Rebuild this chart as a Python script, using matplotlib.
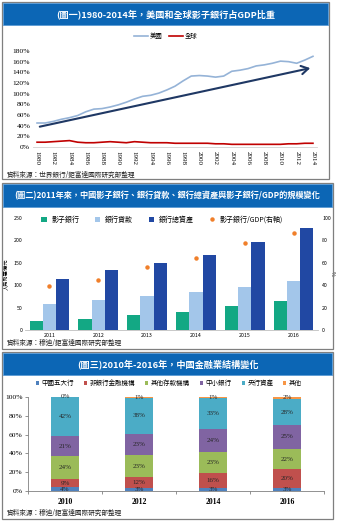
import matplotlib
matplotlib.use("Agg")
import matplotlib.pyplot as plt
from matplotlib.patches import Rectangle
import numpy as np

plt.rcParams['font.family'] = ['Noto Sans CJK TC', 'DejaVu Sans']

W, H = 338, 522

# 圖一 資料
years1 = list(range(1980, 2015))
us = [45, 45, 48, 52, 55, 59, 66, 71, 72, 75, 79, 84, 90, 95, 97, 101, 107, 114, 124, 133,
      134, 133, 131, 133, 142, 144, 147, 152, 154, 157, 161, 160, 157, 163, 170]
world = [9, 9, 10, 11, 12, 9, 8, 8, 9, 10, 9, 8, 10, 9, 8, 8, 8, 7, 7, 7,
         7, 7, 6, 6, 5, 5, 5, 5, 5, 5, 5, 6, 6, 7, 7]
arrow_x = [1980, 2014]
arrow_y = [37, 149]

# 圖二 資料
years2 = ['2011', '2012', '2013', '2014', '2015', '2016']
shadow = [20, 24, 33, 41, 54, 65]
loans = [57, 67, 76, 85, 96, 109]
assets = [113, 133, 149, 167, 196, 227]
shadow_gdp = [39, 45, 56, 64, 78, 87]

# 圖三 資料
years3 = ['2010', '2012', '2014', '2016']
seg_names = ['中國五大行', '非銀行金融機構', '其他存款機構', '中小銀行', '央行資產', '其他']
seg_vals = [
    [4, 3, 3, 3],
    [9, 12, 16, 20],
    [24, 23, 23, 22],
    [21, 23, 24, 25],
    [42, 38, 33, 28],
    [0, 1, 1, 2],
]
seg_colors = ['#4F81BD', '#C0504D', '#9BBB59', '#8064A2', '#4BACC6', '#F79646']


def fr(x0, y0, x1, y1):
    return [x0 / W, 1 - y1 / H, (x1 - x0) / W, (y1 - y0) / H]


def fx(x):
    return x / W


def fy(y):
    return 1 - y / H


fig = plt.figure(figsize=(W / 100, H / 100), dpi=100)
fig.patch.set_facecolor('white')

BANNER = '#0C66B5'


def panel(x0, y0, x1, y1, by1, title, fs):
    fig.patches.append(Rectangle((fx(x0), fy(y1)), fx(x1 - x0), (y1 - y0) / H,
                                 transform=fig.transFigure, fill=False,
                                 edgecolor='#7F7F7F', lw=0.9))
    fig.patches.append(Rectangle((fx(x0 + 1), fy(by1)), fx(x1 - x0 - 2), (by1 - y0 - 1) / H,
                                 transform=fig.transFigure, facecolor=BANNER,
                                 edgecolor='#5B9BD5', lw=0.6))
    fig.text(fx((x0 + x1) / 2), fy((y0 + by1) / 2 + 0.5), title, color='white',
             fontsize=fs, fontweight='bold', ha='center', va='center')


panel(2, 2, 329, 179, 25, '(圖一)1980-2014年，美國和全球影子銀行占GDP比重', 6.6)
panel(2, 183, 333, 349, 207,
      '(圖二)2011年來，中國影子銀行、銀行貸款、銀行總資產與影子銀行/GDP的規模變化', 5.9)
panel(2, 352, 333, 519, 375, '(圖三)2010年-2016年，中國金融業結構變化', 6.6)

src_fs = 4.8
fig.text(fx(7), fy(175), '資料來源：世界銀行/鉅富達國際研究部整理', fontsize=src_fs,
         ha='left', va='center', color='#222222')
fig.text(fx(7), fy(343), '資料來源：穆迪/鉅富達國際研究部整理', fontsize=src_fs,
         ha='left', va='center', color='#222222')
fig.text(fx(7), fy(513), '資料來源：穆迪/鉅富達國際研究部整理', fontsize=src_fs,
         ha='left', va='center', color='#222222')

# ---------------- 圖一 ----------------
ax1 = fig.add_axes(fr(33, 51, 317, 147))
ax1.plot(years1, us, color='#95B3D7', lw=1.2, label='美國')
ax1.plot(years1, world, color='#C00000', lw=1.2, label='全球')
ax1.annotate('', xy=(arrow_x[1], arrow_y[1]), xytext=(arrow_x[0], arrow_y[0]),
             arrowprops=dict(arrowstyle='->,head_length=0.5,head_width=0.3',
                             color='#1F3864', lw=1.5))
ax1.set_xlim(1979.5, 2014.5)
ax1.set_ylim(0, 180)
ax1.set_yticks(range(0, 181, 20))
ax1.set_yticklabels([f'{v}%' for v in range(0, 181, 20)], family='Liberation Serif',
                    fontsize=5.4)
ax1.set_xticks(range(1980, 2015, 2))
ax1.set_xticklabels([str(y) for y in range(1980, 2015, 2)], rotation=-90,
                    family='Liberation Serif', fontsize=5.0)
ax1.tick_params(length=0, pad=2)
ax1.tick_params(axis='x', pad=3)
for s in ['top', 'right', 'left']:
    ax1.spines[s].set_visible(False)
ax1.spines['bottom'].set_color('#D0D0D0')
ax1.spines['bottom'].set_linewidth(0.6)
ax1.legend(loc='center', bbox_to_anchor=(fx(166), fy(36)), bbox_transform=fig.transFigure,
           ncol=2, frameon=False, fontsize=4.6, handlelength=2.2, columnspacing=1.0,
           handletextpad=0.3)

# ---------------- 圖二 ----------------
ax2 = fig.add_axes(fr(25, 218, 318, 330))
x2 = np.arange(len(years2))
bw = 0.27
b1 = ax2.bar(x2 - bw, shadow, bw, color='#13A884', label='影子銀行')
b2 = ax2.bar(x2, loans, bw, color='#A3C6EA', label='銀行貸款')
b3 = ax2.bar(x2 + bw, assets, bw, color='#2148A3', label='銀行總資產')
ax2.set_xlim(-0.5, len(years2) - 0.5)
ax2.set_ylim(0, 250)
ax2.set_yticks(range(0, 251, 50))
ax2.set_xticks(x2)
ax2.set_xticklabels(years2)
ax2.tick_params(length=0, labelsize=3.8, pad=2)
ax2.set_ylabel('人民幣萬億元', fontsize=3.8, labelpad=3)
for s in ['top', 'right', 'left']:
    ax2.spines[s].set_visible(False)
ax2.spines['bottom'].set_color('#BFBFBF')
ax2.spines['bottom'].set_linewidth(0.6)

ax2r = ax2.twinx()
d = ax2r.plot(x2, shadow_gdp, linestyle='none', marker='o', ms=2.2, color='#F07F2A',
              label='影子銀行/GDP(右軸)')[0]
ax2r.set_ylim(0, 100)
ax2r.set_yticks(range(0, 101, 20))
ax2r.tick_params(length=0, labelsize=3.8, pad=3)
ax2r.set_ylabel('%', fontsize=3.8, rotation=90, labelpad=1)
for s in ['top', 'right', 'left', 'bottom']:
    ax2r.spines[s].set_visible(False)

fig.legend(handles=[b1, b2, b3, d], loc='center', bbox_to_anchor=(fx(162), fy(220)),
           ncol=4, frameon=False, fontsize=5.0, handlelength=0.8, handleheight=0.8,
           columnspacing=2.2, handletextpad=0.7, markerscale=1.0)

# ---------------- 圖三 ----------------
ax3 = fig.add_axes(fr(28, 397, 324, 491))
x3 = np.arange(len(years3))
bottom = np.zeros(len(years3))
handles = []
for name, vals, col in zip(seg_names, seg_vals, seg_colors):
    vals = np.array(vals, dtype=float)
    b = ax3.bar(x3, vals, 0.39, bottom=bottom, color=col, label=name)
    handles.append(b)
    for xi, v, b0 in zip(x3, vals, bottom):
        ax3.text(xi, b0 + v / 2, f'{int(v)}%', ha='center', va='center', fontsize=5.0,
                 family='Liberation Serif', color='#262626')
    bottom += vals
ax3.set_xlim(-0.5, len(years3) - 0.5)
ax3.set_ylim(0, 100)
ax3.set_yticks(range(0, 101, 20))
ax3.set_yticklabels([f'{v}%' for v in range(0, 101, 20)], family='Liberation Serif',
                    fontsize=5.4)
ax3.set_xticks(x3)
ax3.set_xticklabels(years3, family='Liberation Serif', fontweight='bold', fontsize=5.6)
ax3.set_xticks(np.arange(-0.5, len(years3), 1), minor=True)
ax3.tick_params(axis='x', which='major', length=0, pad=5)
ax3.tick_params(axis='x', which='minor', length=2.5, color='#808080', width=0.6)
ax3.tick_params(axis='y', length=2, color='#808080', width=0.6, pad=2)
for s in ['top', 'right']:
    ax3.spines[s].set_visible(False)
for s in ['bottom', 'left']:
    ax3.spines[s].set_color('#808080')
    ax3.spines[s].set_linewidth(0.6)

fig.legend(handles=handles, loc='center', bbox_to_anchor=(fx(169), fy(383)), ncol=6,
           frameon=False, fontsize=4.7, handlelength=0.5, handleheight=0.5,
           columnspacing=1.5, handletextpad=0.4)

fig.savefig('out.png', dpi=100)
